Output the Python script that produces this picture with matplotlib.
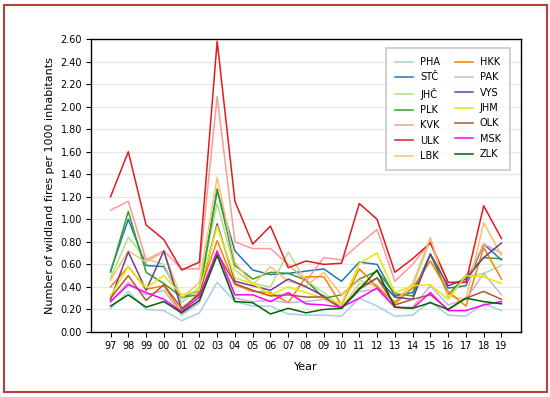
import matplotlib
matplotlib.use("Agg")
import matplotlib.pyplot as plt
from matplotlib.patches import Rectangle

years = ["97", "98", "99", "00", "01", "02", "03", "04", "05", "06", "07", "08",
         "09", "10", "11", "12", "13", "14", "15", "16", "17", "18", "19"]

PHA = [0.21, 0.36, 0.20, 0.19, 0.10, 0.17, 0.44, 0.27, 0.23, 0.23, 0.16, 0.15, 0.15, 0.14, 0.30, 0.23, 0.14, 0.15, 0.27, 0.15, 0.14, 0.25, 0.19]
STC = [0.54, 1.00, 0.59, 0.58, 0.30, 0.37, 1.25, 0.72, 0.55, 0.51, 0.52, 0.54, 0.56, 0.45, 0.62, 0.60, 0.32, 0.35, 0.69, 0.39, 0.41, 0.78, 0.64]
JHC = [0.48, 0.84, 0.65, 0.60, 0.26, 0.40, 1.14, 0.55, 0.43, 0.40, 0.71, 0.45, 0.35, 0.22, 0.43, 0.42, 0.24, 0.40, 0.82, 0.30, 0.49, 0.52, 0.59]
PLK = [0.53, 1.07, 0.53, 0.43, 0.31, 0.33, 1.27, 0.59, 0.47, 0.53, 0.52, 0.46, 0.30, 0.33, 0.47, 0.54, 0.34, 0.32, 0.69, 0.33, 0.50, 0.66, 0.65]
KVK = [1.08, 1.16, 0.64, 0.72, 0.56, 0.56, 2.09, 0.80, 0.74, 0.74, 0.60, 0.45, 0.66, 0.64, 0.78, 0.91, 0.45, 0.60, 0.80, 0.44, 0.45, 0.78, 0.70]
ULK = [1.20, 1.60, 0.95, 0.82, 0.55, 0.62, 2.58, 1.16, 0.78, 0.94, 0.57, 0.63, 0.60, 0.61, 1.14, 1.00, 0.53, 0.65, 0.79, 0.44, 0.44, 1.12, 0.83]
LBK = [0.46, 0.72, 0.62, 0.71, 0.30, 0.44, 1.37, 0.62, 0.42, 0.58, 0.45, 0.41, 0.53, 0.33, 0.46, 0.40, 0.27, 0.43, 0.84, 0.32, 0.29, 0.97, 0.68]
HKK = [0.40, 0.58, 0.38, 0.41, 0.17, 0.36, 0.81, 0.42, 0.36, 0.35, 0.26, 0.49, 0.49, 0.24, 0.56, 0.40, 0.26, 0.39, 0.63, 0.36, 0.23, 0.75, 0.47]
PAK = [0.27, 0.44, 0.33, 0.37, 0.15, 0.26, 0.69, 0.30, 0.27, 0.28, 0.26, 0.27, 0.29, 0.22, 0.36, 0.38, 0.22, 0.22, 0.41, 0.24, 0.29, 0.52, 0.33]
VYS = [0.29, 0.71, 0.37, 0.72, 0.20, 0.34, 0.96, 0.45, 0.41, 0.37, 0.47, 0.40, 0.32, 0.21, 0.38, 0.48, 0.31, 0.29, 0.69, 0.41, 0.47, 0.66, 0.79]
JHM = [0.32, 0.58, 0.39, 0.50, 0.33, 0.37, 0.94, 0.48, 0.43, 0.33, 0.40, 0.35, 0.30, 0.25, 0.61, 0.70, 0.35, 0.41, 0.42, 0.29, 0.50, 0.49, 0.43]
OLK = [0.30, 0.50, 0.28, 0.42, 0.21, 0.33, 0.70, 0.43, 0.37, 0.32, 0.33, 0.31, 0.31, 0.21, 0.39, 0.48, 0.24, 0.29, 0.33, 0.20, 0.30, 0.36, 0.29]
MSK = [0.27, 0.42, 0.35, 0.29, 0.18, 0.31, 0.72, 0.33, 0.33, 0.27, 0.35, 0.25, 0.24, 0.22, 0.30, 0.39, 0.22, 0.21, 0.35, 0.19, 0.19, 0.24, 0.27]
ZLK = [0.23, 0.33, 0.22, 0.27, 0.17, 0.28, 0.68, 0.27, 0.26, 0.16, 0.21, 0.17, 0.20, 0.21, 0.38, 0.55, 0.22, 0.21, 0.26, 0.20, 0.30, 0.27, 0.25]

regions = ["PHA", "STČ", "JHČ", "PLK", "KVK", "ULK", "LBK",
           "HKK", "PAK", "VYS", "JHM", "OLK", "MSK", "ZLK"]
series = [PHA, STC, JHC, PLK, KVK, ULK, LBK, HKK, PAK, VYS, JHM, OLK, MSK, ZLK]
colors = ["#a6cee3", "#1f78b4", "#b2df8a", "#33a02c", "#fb9a99", "#e31a1c", "#fdbf6f",
          "#ff7f00", "#cab2d6", "#6a3d9a", "#e8e800", "#b15928", "#ff00ff", "#006400"]

plt.rcParams['font.family'] = ['DejaVu Sans']
fig = plt.figure(figsize=(5.5, 3.97), dpi=100)
fig.patch.set_facecolor("white")
ax = fig.add_axes([91/550, 1 - 332/397, (521-91)/550, (332-39)/397])

x = list(range(len(years)))
for name, vals, c in zip(regions, series, colors):
    ax.plot(x, vals, color=c, lw=1.1, label=name)

ax.set_xlim(-1.1, len(years) - 1 + 1.1)
ax.set_ylim(0, 2.6)
ax.set_xticks(x)
ax.set_xticklabels(years, fontsize=7)
yt = [i * 0.2 for i in range(14)]
ax.set_yticks(yt)
ax.set_yticklabels([f"{v:.2f}" for v in yt], fontsize=7)
ax.yaxis.grid(True, color="#e6e6e6", lw=0.8)
ax.set_axisbelow(True)
ax.tick_params(direction="out", length=3.5, width=0.8, pad=3)
ax.set_xlabel("Year", fontsize=8, labelpad=8)
ax.set_ylabel("Number of wildland fires per 1000 inhabitants", fontsize=8)
for s in ax.spines.values():
    s.set_linewidth(1.0)

leg = ax.legend(ncol=2, loc="upper right", fontsize=7, frameon=True,
                fancybox=False, handlelength=1.9, handletextpad=0.7,
                columnspacing=1.5, borderpad=0.9, labelspacing=0.55,
                bbox_to_anchor=(0.985, 0.985))
leg.get_frame().set_edgecolor("#bbbbbb")
leg.get_frame().set_linewidth(1.2)

fig.patches.append(Rectangle((4/550, 1 - 392/397), (547-4)/550, (392-5)/397,
                             transform=fig.transFigure, fill=False,
                             edgecolor="#b5403c", lw=1.5))

fig.savefig("out.png", dpi=100, facecolor="white")
